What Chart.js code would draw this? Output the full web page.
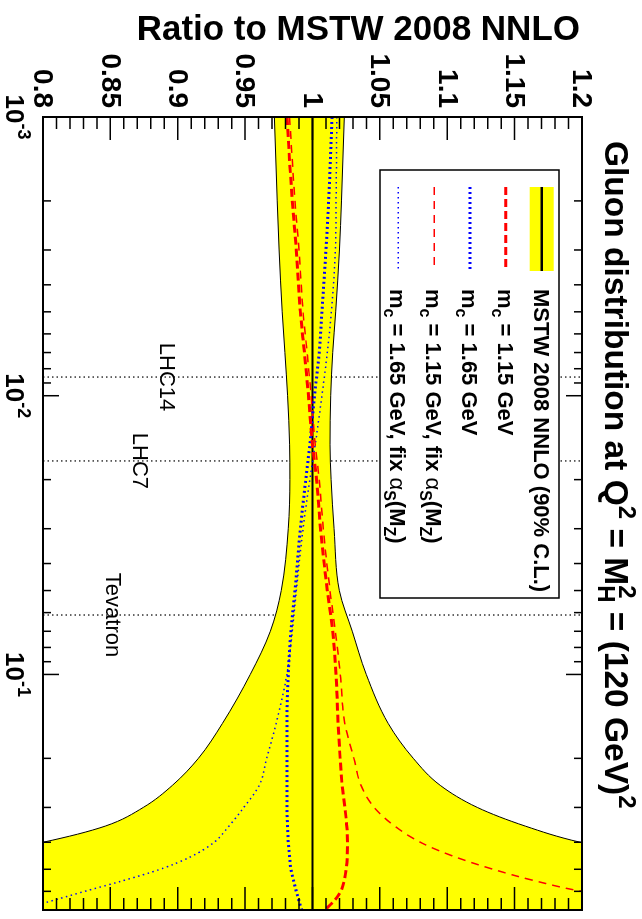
<!DOCTYPE html>
<html>
<head>
<meta charset="utf-8">
<script src="https://cdn.jsdelivr.net/npm/chart.js@4.4.0/dist/chart.umd.min.js"></script>
<style>
  html, body { margin: 0; padding: 0; background: #fff; overflow: hidden; }
  /* the plot is drawn landscape and turned a quarter clockwise */
  #wrap { position: absolute; left: 0; top: 0; width: 919px; height: 642px;
          transform-origin: 0 0; transform: translate(642px, 0) rotate(90deg); }
</style>
</head>
<body>
<div id="wrap"><canvas id="chart" width="919" height="642"></canvas></div>
<script>
const xValues = [0.001, 0.002, 0.003, 0.005, 0.007, 0.01, 0.015, 0.02, 0.03, 0.05, 0.07, 0.1,
                 0.15, 0.2, 0.25, 0.3, 0.35, 0.4, 0.45, 0.5, 0.55, 0.6, 0.65, 0.7];

// 90% C.L. band, ratio to central value
const bandLow  = [0.9717, 0.9738, 0.9752, 0.9775, 0.9795, 0.9815, 0.9830, 0.9832, 0.9820, 0.9768, 0.9687, 0.9538,
                  0.9331, 0.9153, 0.8960, 0.8744, 0.8462, 0.8000, 0.743, 0.68, 0.62, 0.56, 0.50, 0.44];
const bandHigh = [1.0236, 1.0215, 1.0200, 1.0172, 1.0150, 1.0135, 1.0130, 1.0138, 1.0160, 1.0199, 1.0295, 1.0399,
                  1.0562, 1.0748, 1.0948, 1.1223, 1.1579, 1.1987, 1.255, 1.315, 1.375, 1.435, 1.49, 1.545];

const centralX = [0.001, 0.7];
const central = [1, 1];

const mc115      = [0.981, 0.985, 0.988, 0.991, 0.994, 0.997, 1.000, 1.003, 1.006, 1.011, 1.015, 1.0175,
                    1.019, 1.0205, 1.022, 1.024, 1.0255, 1.026, 1.0258, 1.025, 1.0235, 1.021, 1.016, 1.009];
const mc165      = [1.0145, 1.012, 1.010, 1.007, 1.005, 1.0015, 0.998, 0.995, 0.991, 0.987, 0.984, 0.982,
                    0.981, 0.981, 0.981, 0.981, 0.9815, 0.982, 0.983, 0.984, 0.986, 0.988, 0.990, 0.992];
const mc115FixAs = [0.983, 0.987, 0.990, 0.993, 0.996, 0.999, 1.002, 1.005, 1.008, 1.013, 1.017, 1.0206,
                    1.024, 1.0307, 1.036, 1.0457, 1.061, 1.080, 1.105, 1.134, 1.165, 1.20, 1.25, 1.31];
const mc165FixAs = [1.018, 1.0175, 1.017, 1.014, 1.011, 1.007, 1.002, 0.998, 0.993, 0.988, 0.985, 0.981,
                    0.973, 0.966, 0.9605, 0.949, 0.938, 0.927, 0.910, 0.887, 0.859, 0.831, 0.806, 0.782];

// axis ticks
const ratioTicks = [0.8, 0.85, 0.9, 0.95, 1, 1.05, 1.1, 1.15, 1.2];
const ratioTickLabels = ['0.8', '0.85', '0.9', '0.95', '1', '1.05', '1.1', '1.15', '1.2'];
const xDecades = [-3, -2, -1];

// collider kinematics x = M_H / sqrt(s)
const colliders = ['LHC14', 'LHC7', 'Tevatron'];
const colliderX = [0.00857, 0.01714, 0.0612];
const colliderLabelY = [0.887, 0.867, 0.847];

const FONT = '"Liberation Sans", Arial, Helvetica, sans-serif';

/**
 * Draw a run of text pieces (for sub/superscripts)
 */
function drawParts(ctx, parts, x, y, align) {
  const widths = parts.map(p => {
    ctx.font = `${p.w || 'bold'} ${p.s}px ${FONT}`;
    return ctx.measureText(p.t).width;
  });
  const adv = [];
  let pending = 0;
  parts.forEach((p, i) => {
    if (p.keep) { pending = widths[i]; adv.push(0); }
    else { adv.push(Math.max(widths[i], pending)); pending = 0; }
  });
  const total = adv.reduce((a, b) => a + b, 0);
  let cx = align === 'center' ? x - total / 2 : align === 'right' ? x - total : x;
  ctx.textAlign = 'left';
  ctx.textBaseline = 'alphabetic';
  parts.forEach((p, i) => {
    ctx.font = `${p.w || 'bold'} ${p.s}px ${FONT}`;
    ctx.fillText(p.t, cx, y + (p.dy || 0));
    cx += adv[i];
  });
}

function mcParts(mass, fix) {
  const s = 22, ss = 16;
  const parts = [{ t: 'm', s }, { t: 'c', s: ss, dy: 6 }, { t: ' = ' + mass + ' GeV' + (fix ? ', fix ' : ''), s }];
  if (fix) {
    parts.push({ t: '\u03b1', s: 22, w: 'normal' }, { t: 'S', s: ss, dy: 6 }, { t: '(M', s },
               { t: 'Z', s: ss, dy: 6 }, { t: ')', s });
  }
  return parts;
}

const legendItems = [
  { parts: [{ t: 'MSTW 2008 NNLO (90% C.L.)', s: 22 }], band: true },
  { parts: mcParts('1.15', false), color: '#ff0000', width: 3, dash: [8, 4] },
  { parts: mcParts('1.65', false), color: '#0000ff', width: 3, dash: [2, 3] },
  { parts: mcParts('1.15', true), color: '#ff0000', width: 1.5, dash: [8, 6] },
  { parts: mcParts('1.65', true), color: '#0000ff', width: 1.5, dash: [1.5, 3.5] }
];

const rootStyle = {
  id: 'rootStyle',
  beforeDraw(chart) {
    const { ctx, chartArea: a, scales: { x } } = chart;
    ctx.save();
    ctx.strokeStyle = '#000';
    ctx.lineWidth = 1.2;
    ctx.setLineDash([1.5, 3]);
    colliderX.forEach(v => {
      const px = x.getPixelForValue(v);
      ctx.beginPath();
      ctx.moveTo(px, a.bottom);
      ctx.lineTo(px, a.top);
      ctx.stroke();
    });
    ctx.restore();
  },
  afterDatasetsDraw(chart) {
    const { ctx, chartArea: a, scales: { x, y } } = chart;
    ctx.save();
    ctx.fillStyle = '#000';

    // collider labels
    colliders.forEach((name, i) => {
      ctx.font = `normal 22px ${FONT}`;
      ctx.textAlign = 'center';
      ctx.textBaseline = 'alphabetic';
      ctx.fillText(name, x.getPixelForValue(colliderX[i]), y.getPixelForValue(colliderLabelY[i]));
    });

    // frame
    ctx.strokeStyle = '#000';
    ctx.lineWidth = 2;
    ctx.strokeRect(a.left, a.top, a.right - a.left, a.bottom - a.top);

    // ratio ticks, both sides
    ctx.lineWidth = 1.5;
    for (let i = 80; i <= 120; i++) {
      const py = y.getPixelForValue(i / 100);
      const len = i % 5 === 0 ? 23 : 12;
      ctx.beginPath();
      ctx.moveTo(a.left, py); ctx.lineTo(a.left + len, py);
      ctx.moveTo(a.right, py); ctx.lineTo(a.right - len, py);
      ctx.stroke();
    }
    // log x ticks, top and bottom
    [-3, -2, -1, 0].forEach(d => {
      for (let m = 1; m <= 9; m++) {
        const v = m * Math.pow(10, d);
        if (v > 0.7) break;
        const px = x.getPixelForValue(v);
        const len = m === 1 ? 16 : 8;
        ctx.beginPath();
        ctx.moveTo(px, a.bottom); ctx.lineTo(px, a.bottom - len);
        ctx.moveTo(px, a.top); ctx.lineTo(px, a.top + len);
        ctx.stroke();
      }
    });

    // ratio tick labels
    ctx.font = `bold 28px ${FONT}`;
    ctx.textAlign = 'right';
    ctx.textBaseline = 'middle';
    ratioTicks.forEach((v, i) => {
      ctx.fillText(ratioTickLabels[i], a.left - 9, y.getPixelForValue(v) + 1);
    });

    // log tick labels 10^n
    xDecades.forEach(d => {
      drawParts(ctx, [{ t: '10', s: 26 }, { t: String(d), s: 18, dy: -12 }],
                x.getPixelForValue(Math.pow(10, d)), a.bottom + 37, 'center');
    });

    // y axis title
    ctx.save();
    ctx.translate(40, a.top + 2);
    ctx.rotate(-Math.PI / 2);
    ctx.font = `bold 35px ${FONT}`;
    ctx.textAlign = 'right';
    ctx.textBaseline = 'alphabetic';
    ctx.fillText('Ratio to MSTW 2008 NNLO', 0, 0);
    ctx.restore();

    // plot title
    drawParts(ctx, [
      { t: 'Gluon distribution at Q', s: 33.5 }, { t: '2', s: 24, dy: -14 },
      { t: ' = M', s: 33.5 }, { t: 'H', s: 24, dy: 7, keep: true }, { t: '2', s: 24, dy: -14 },
      { t: ' = (120 GeV)', s: 33.5 }, { t: '2', s: 24, dy: -14 }
    ], 141, 37, 'left');

    // legend
    const lx0 = 170, lx1 = 598, ly0 = 83, ly1 = 262;
    ctx.fillStyle = '#fff';
    ctx.fillRect(lx0, ly0, lx1 - lx0, ly1 - ly0);
    ctx.strokeStyle = '#000';
    ctx.lineWidth = 1.5;
    ctx.strokeRect(lx0, ly0, lx1 - lx0, ly1 - ly0);
    legendItems.forEach((item, i) => {
      const cy = 100.3 + i * 35.85;
      if (item.band) {
        ctx.fillStyle = '#ffff00';
        ctx.fillRect(187, cy - 12, 84, 24);
        ctx.strokeStyle = '#000';
        ctx.lineWidth = 2.5;
        ctx.setLineDash([]);
      } else {
        ctx.strokeStyle = item.color;
        ctx.lineWidth = item.width;
        ctx.setLineDash(item.dash);
      }
      ctx.beginPath();
      ctx.moveTo(187, cy); ctx.lineTo(271, cy);
      ctx.stroke();
      ctx.setLineDash([]);
      ctx.fillStyle = '#000';
      drawParts(ctx, item.parts, 289, cy + 8, 'left');
    });
    ctx.restore();
  }
};

const pts = (xs, ys) => xs.map((v, i) => ({ x: v, y: ys[i] }));

new Chart(document.getElementById('chart'), {
  type: 'line',
  data: {
    datasets: [
      { label: 'band low', data: pts(xValues, bandLow), borderColor: '#000', borderWidth: 1, fill: false, order: 10 },
      { label: 'MSTW 2008 NNLO (90% C.L.)', data: pts(xValues, bandHigh), borderColor: '#000', borderWidth: 1,
        backgroundColor: '#ffff00', fill: '-1', order: 9 },
      { label: 'central', data: pts(centralX, central), borderColor: '#000', borderWidth: 2, order: 5 },
      { label: 'mc = 1.65 GeV, fix alphaS', data: pts(xValues, mc165FixAs), borderColor: '#0000ff',
        borderWidth: 1.5, borderDash: [1.5, 3.5], order: 4 },
      { label: 'mc = 1.15 GeV, fix alphaS', data: pts(xValues, mc115FixAs), borderColor: '#ff0000',
        borderWidth: 1.5, borderDash: [8, 6], order: 3 },
      { label: 'mc = 1.65 GeV', data: pts(xValues, mc165), borderColor: '#0000ff',
        borderWidth: 3, borderDash: [2, 3], order: 2 },
      { label: 'mc = 1.15 GeV', data: pts(xValues, mc115), borderColor: '#ff0000',
        borderWidth: 3, borderDash: [8, 4], order: 1 }
    ]
  },
  options: {
    responsive: false,
    animation: false,
    devicePixelRatio: 1,
    layout: { padding: { left: 117, right: 9, top: 60, bottom: 43 } },
    elements: {
      point: { radius: 0 },
      line: { cubicInterpolationMode: 'monotone', fill: false }
    },
    plugins: {
      legend: { display: false },
      tooltip: { enabled: false },
      filler: { drawTime: 'beforeDatasetsDraw' }
    },
    scales: {
      x: { type: 'logarithmic', min: 0.001, max: 0.7, display: false },
      y: { type: 'linear', min: 0.8, max: 1.2, display: false }
    }
  },
  plugins: [rootStyle]
});
</script>
</body>
</html>
